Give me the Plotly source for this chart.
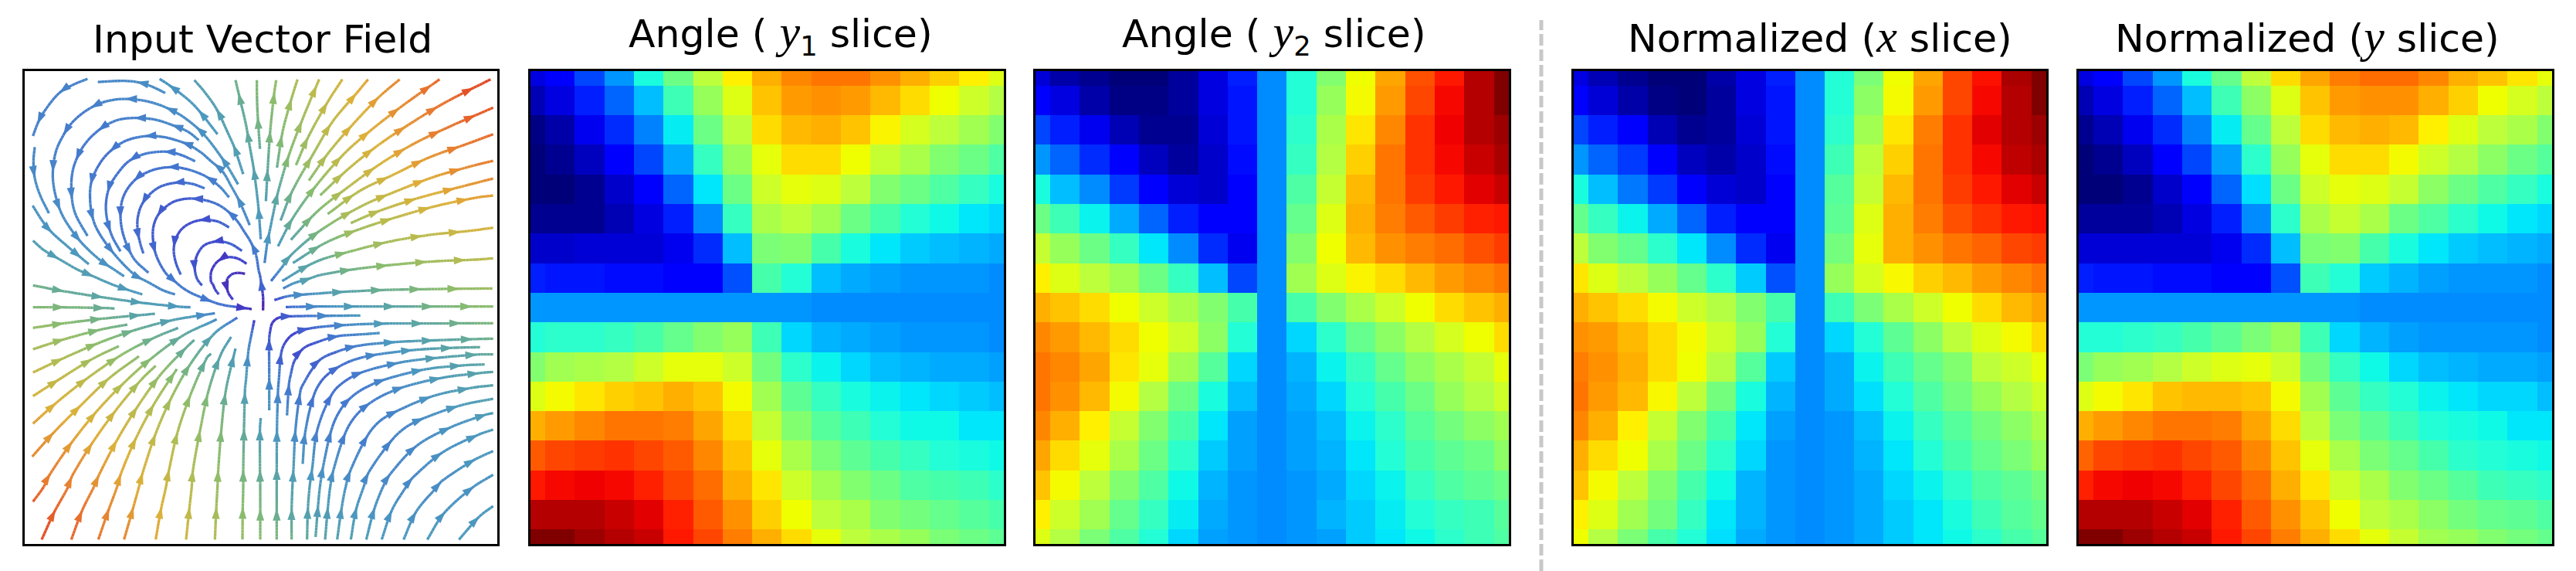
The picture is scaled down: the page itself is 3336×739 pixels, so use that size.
import math
import plotly.graph_objects as go

W, H = 3336, 739
MATH = '<span style="font-family:\'Liberation Serif\';font-style:italic;font-size:60px">%s</span>'
TITLES = [
    "Input Vector Field",
    "Angle ( " + MATH % "y" + "<sub>1</sub> slice)",
    "Angle ( " + MATH % "y" + "<sub>2</sub> slice)",
    "Normalized (" + MATH % "x" + " slice)",
    "Normalized (" + MATH % "y" + " slice)",
]
TITLE_CENTER = [340, 1011, 1650, 2357, 2988]
PANEL_X = [(31.5, 644), (687, 1300), (1341, 1954), (2038, 2650), (2692, 3305)]
PANEL_Y = (91.7, 704)

ANGLE_Y1 = [
    [9,11,17,25,37,47,56,66,72,76,78,78,75,72,69,66,60],
    [5,9,14,20,29,41,52,60,70,74,75,74,71,68,62,58,55],
    [1,4,10,15,23,34,47,56,68,71,72,70,65,59,56,53,50],
    [0,2,6,11,17,27,40,52,61,68,68,62,57,54,50,47,43],
    [0,0,2,7,11,20,33,47,58,61,60,56,50,47,43,40,37],
    [2,2,2,5,9,14,24,40,54,56,53,47,42,38,36,33,31],
    [7,7,8,8,8,10,15,29,49,50,42,37,33,30,29,28,27],
    [14,13,13,12,12,11,11,18,42,38,29,27,26,25,25,25,24],
    [25,25,25,25,25,25,25,25,25,25,24,24,24,24,24,24,24],
    [38,39,39,40,42,46,50,52,41,31,28,27,26,25,25,25,24],
    [50,53,54,55,58,61,61,58,48,39,35,31,29,28,27,27,26],
    [60,63,67,69,70,72,70,63,53,45,40,37,35,33,31,30,29],
    [72,74,76,78,78,77,73,68,57,50,44,41,38,36,36,33,33],
    [81,83,84,85,83,81,76,70,61,54,49,45,42,40,38,37,36],
    [88,90,91,90,87,83,79,72,67,58,53,50,47,43,42,41,39],
    [96,96,96,94,92,87,81,75,69,62,56,54,50,48,46,44,42],
    [100,100,98,96,94,88,83,77,72,68,61,56,54,52,49,47,45],
]
ANGLE_Y2 = [
    [8,4,2,0,0,3,9,14,24,38,50,62,73,82,88,96,100],
    [11,9,4,1,1,3,9,13,24,38,52,63,74,83,90,96,100],
    [17,14,10,5,2,2,8,13,24,39,54,67,76,85,91,96,98],
    [25,20,15,11,6,3,7,12,24,40,55,69,78,85,90,94,97],
    [37,29,24,16,11,8,7,11,24,43,57,71,78,84,88,92,94],
    [47,41,35,27,20,14,11,11,24,46,60,72,77,81,84,87,88],
    [57,52,47,40,33,24,15,10,24,50,62,71,75,77,79,82,84],
    [66,60,56,53,47,40,29,17,24,53,60,65,68,71,74,76,78],
    [72,70,68,62,58,54,50,42,24,42,50,54,58,62,68,70,72],
    [76,74,71,68,62,58,51,38,24,31,39,46,51,55,59,62,68],
    [78,76,73,67,61,53,44,31,24,28,35,40,46,51,54,57,61],
    [78,75,71,63,55,47,37,29,24,27,31,38,42,47,52,55,58],
    [76,72,66,57,50,42,33,26,24,26,29,35,39,44,48,51,53],
    [73,68,61,54,47,39,30,26,24,26,28,33,38,42,45,47,51],
    [70,63,56,50,43,36,28,25,24,25,27,31,35,40,43,45,47],
    [66,58,53,46,40,34,27,25,24,25,28,30,34,38,40,41,44],
    [60,55,49,43,38,31,26,25,24,25,26,30,33,36,39,41,43],
]
NORM_X = [
    [9,5,2,0,0,4,9,14,24,38,49,62,73,83,89,97,100],
    [11,8,4,1,0,3,9,13,24,38,51,63,74,83,90,96,100],
    [17,14,11,5,2,3,8,13,24,39,53,67,77,85,92,96,98],
    [25,20,16,11,6,4,7,12,24,41,56,69,78,85,90,95,97],
    [37,29,22,16,11,8,7,11,24,44,57,71,78,84,88,92,94],
    [46,40,35,27,20,14,11,11,24,45,60,72,77,82,85,88,89],
    [56,50,46,39,33,24,15,10,24,48,61,72,75,78,80,83,84],
    [67,60,56,52,46,39,30,18,24,52,59,64,69,71,74,76,78],
    [72,70,68,63,58,55,50,42,24,41,49,54,58,62,68,71,73],
    [75,74,71,68,63,58,52,38,24,31,38,45,51,56,60,63,68],
    [77,75,72,68,62,55,44,30,24,27,35,41,46,50,56,58,61],
    [78,74,71,64,56,48,37,28,24,27,32,38,43,48,52,55,58],
    [76,72,66,57,50,42,33,26,24,25,29,35,40,44,48,51,54],
    [72,68,62,54,47,39,31,25,24,25,28,33,38,42,46,49,52],
    [70,63,56,50,42,36,28,25,24,25,27,31,35,39,43,45,48],
    [66,60,53,48,40,33,28,25,24,25,27,30,33,37,41,44,46],
    [62,55,49,42,38,32,27,25,24,25,27,30,33,36,39,42,44],
]
NORM_Y = [
    [9,11,17,25,37,46,56,68,73,77,79,79,76,72,70,67,61],
    [5,9,14,20,29,41,51,60,70,74,75,75,72,69,62,59,56],
    [2,5,10,15,23,34,46,56,68,71,72,71,66,60,56,54,50],
    [0,2,6,11,17,26,39,52,61,68,68,63,58,55,51,47,44],
    [0,0,2,7,11,20,32,47,58,61,60,57,51,47,43,40,37],
    [3,3,3,5,9,14,24,39,54,57,54,47,43,39,36,33,31],
    [8,8,8,8,8,10,15,29,49,50,42,37,33,30,29,28,27],
    [14,13,13,12,12,11,11,18,41,38,30,28,26,25,25,25,24],
    [25,25,25,25,25,25,25,25,25,25,24,24,24,24,24,24,24],
    [38,38,39,40,42,45,49,52,41,31,28,26,25,25,25,25,24],
    [49,52,53,55,58,60,61,58,48,40,36,31,29,28,27,27,26],
    [60,63,67,70,71,71,70,63,53,45,40,38,35,33,31,31,29],
    [72,74,76,78,78,77,73,68,56,49,45,41,38,37,36,33,33],
    [80,83,84,85,83,81,76,70,61,54,49,46,42,39,38,37,36],
    [87,90,91,90,87,83,79,72,67,58,54,50,47,44,41,40,39],
    [96,96,96,94,92,87,81,75,70,62,56,54,51,48,46,45,43],
    [100,100,98,96,94,88,83,77,72,68,61,57,53,52,50,48,46],
]
ZERO_LEVEL = 24

JET_STOPS = [
    (0,(0,0,120)),(5,(0,0,180)),(9,(0,0,225)),(11,(0,0,255)),(14,(0,30,255)),(17,(0,70,255)),
    (20,(0,100,255)),(24,(0,140,255)),(26.5,(0,165,255)),(29,(0,190,255)),(31,(0,215,255)),
    (33,(0,230,250)),(36,(15,250,230)),(38.5,(40,255,210)),(42,(70,255,170)),(46,(100,255,140)),
    (50,(130,255,110)),(53,(160,255,80)),(56,(190,255,60)),(60,(220,255,20)),(62,(240,255,0)),
    (66,(255,240,0)),(68,(255,220,0)),(70,(255,195,0)),(72,(255,175,0)),(74.5,(255,150,0)),
    (77,(255,125,0)),(80,(255,100,0)),(83,(255,70,0)),(86,(255,40,0)),(88.5,(255,20,0)),
    (91,(240,0,0)),(94,(200,0,0)),(97,(170,0,0)),(100,(128,0,0)),
]
SPEED_STOPS = [
    (0.00,(90,24,154)),(0.13,(64,64,204)),(0.25,(68,120,208)),(0.38,(76,152,192)),(0.50,(95,168,160)),
    (0.63,(136,188,112)),(0.75,(184,188,80)),(0.87,(223,176,56)),(1.00,(232,122,48)),(1.12,(226,60,34)),
]

# Streamlines, in flow order. Points are in thirds of a pixel; a name switches the tile they are read from.
TILES = {"nw":(0,0),"ne":(918,0),"sw":(0,822),"se":(918,822),"bl":(0,1644),"br":(918,1644)}
STREAMLINES = [
    ["nw",(862,817),(832,813),(808,820),(793,835),"sw",(790,35),(797,70),(815,95)],
    ["nw",(868,778),(835,758),(800,752),(765,762),(745,780),(730,810),(730,850),"sw",(737,35),(745,55),(760,75)],
    ["nw",(850,728),(815,705),(780,693),(745,692),(705,705),(680,735),(667,775),(668,810),(677,840),"sw",(695,40)],
    ["nw",(800,637),(760,615),(720,608),(680,610),(640,625),(610,650),(590,690),(585,730),(595,780),(612,820)],
    ["se",(14,137),(14,85),(8,40),(2,0),"nw",(915,805),(905,745),(885,695),(860,655),(830,610),(790,570),(750,545),(700,530),(640,525),(590,535),(550,560),(520,595),(505,640),(505,690),(515,740),(535,785),(560,822),"sw",(590,25),(620,50),(650,68),(700,90),(760,112),(800,120),(888,132)],
    ["nw",(705,485),(665,470),(625,463),(580,465),(530,480),(490,510),(460,550),(445,600),(445,650),(455,700),(467,738)],
    ["nw",(800,520),(765,480),(720,445),(680,425),(625,408),(570,403),(510,412),(450,440),(410,480),(385,530),(378,590),(385,650),(405,710),(435,765),(487,813)],
    ["nw",(668,380),(620,358),(575,345),(530,343),(470,352),(410,380),(365,430),(335,480),(322,540),(325,600),(345,670),(378,730)],
    ["nw",(880,628),(860,580),(835,525),(810,480),(775,420),(730,380),(690,345),(640,315),(600,300),(540,285),(470,283),(400,300),(345,335),(300,385),(265,460),(260,530),(270,600),(290,650),(330,710),(380,770),(435,822),"sw",(490,30),(545,60),(590,75)],
    ["nw",(682,298),(640,265),(575,238),(510,218),(430,212),(360,222),(290,262),(235,320),(200,390),(188,450),(190,530),(205,590),(250,670)],
    ["nw",(835,470),(800,410),(760,350),(710,285),(670,245),(610,200),(540,165),(470,145),(395,138),(320,148),(250,180),(190,230),(150,290),(125,350),(115,435),(125,510),(150,585),(190,650),(235,705),(300,765),(360,805),(392,827)],
    ["nw",(755,275),(680,180),(640,140),(575,90),(530,60)],
    ["nw",(855,430),(820,325),(800,280),(750,175),(700,105),(665,65)],
    ["nw",(552,115),(500,90),(440,72),(380,68),(290,72)],
    ["nw",(250,60),(190,85),(140,115),(90,175),(60,225),(38,282)],
    ["nw",(45,325),(40,380),(45,445),(65,510),(100,582)],
    ["nw",(37,552),(70,605),(105,650),(160,700),(255,780)],
    ["nw",(38,688),(80,725),(140,760),(210,800),(275,828),"sw",(350,38),(415,60),(463,75)],
    ["nw",(920,332),(915,260),(910,180),(908,110),(908,65)],
    ["nw",(923,683),(915,570),(905,480),(895,405),(880,320),(865,235),(845,150),(825,65)],
    ["sw",(38,40),(160,63),(300,85),(465,108),(610,123),(650,125)],
    ["sw",(38,125),(150,125),(320,128),(355,130)],
    ["sw",(38,205),(160,187),(320,168),(460,155),(512,150)],
    ["sw",(38,288),(150,252),(300,212),(405,192)],
    ["sw",(38,378),(145,328),(290,265),(430,215),(580,175),(745,148)],
    ["sw",(38,470),(140,405),(270,325),(372,276)],
    ["sw",(38,577),(130,495),(250,400),(390,305),(510,243),(602,205)],
    ["sw",(35,705),(120,610),(225,505),(335,400),(450,315)],
    ["bl",(38,58),(80,0),"sw",(100,780),(185,655),(285,530),(390,420),(500,322),(625,232),(735,180),(752,172)],
    ["bl",(72,205),(120,100),(175,0),"sw",(190,780),(270,650),(360,525),(460,405),(515,352)],
    ["bl",(187,205),(230,90),(275,0),"sw",(295,775),(365,640),(445,510),(535,385),(635,280),(665,252)],
    ["bl",(292,205),(330,95),(365,0),"sw",(380,770),(440,630),(515,490),(597,365)],
    ["bl",(392,205),(425,90),(450,0),"sw",(465,765),(515,615),(575,478),(650,345),(745,225),(832,165)],
    ["bl",(515,205),(535,90),(555,0),"sw",(565,765),(600,610),(650,465),(715,318),(730,305)],
    ["bl",(633,205),(645,90),(655,0),"sw",(660,755),(688,600),(720,450),(768,308),(808,240)],
    ["bl",(745,205),(750,90),(755,0),"sw",(758,755),(770,600),(788,445),(825,285)],
    ["bl",(852,205),(853,90),(855,0),"sw",(855,755),(858,595),(862,440),(865,415),(875,295),(885,240),(898,175)],
    ["br",(3,205),(3,0),"se",(2,755),(2,595),(5,555)],
    ["ne",(25,535),(32,410),(42,260),(58,110),(65,65)],
    ["ne",(68,405),(90,265),(125,135),(148,62)],
    ["ne",(20,775),(30,700),(42,640),(50,600),(72,500),(115,355),(170,210),(232,62)],
    ["ne",(142,395),(190,285),(265,150),(322,62)],
    ["ne",(82,610),(128,495),(210,350),(285,225),(378,115),(422,62)],
    ["ne",(192,455),(270,345),(360,240),(465,130),(545,62)],
    ["ne",(72,710),(130,600),(220,475),(330,350),(430,262),(555,165),(700,62)],
    ["ne",(236,512),(345,410),(465,315),(600,225),(725,150),(898,62)],
    ["ne",(122,685),(225,575),(345,480),(470,390),(600,312),(740,245),(908,172)],
    ["ne",(265,585),(390,495),(525,430),(660,365),(800,315),(908,275)],
    ["ne",(45,845),(85,795),(125,742),(235,650),(395,555),(535,495),(680,440),(820,400),(908,378)],
    ["ne",(355,620),(460,575),(610,525),(760,485),(908,447)],
    ["ne",(130,775),(260,695),(400,640),(540,595),(690,553),(850,520),(908,513)],
    ["ne",(88,845),(220,770),(365,727),(515,690),(670,665),(820,650),(908,638)],
    ["se",(92,52),(130,33),(190,15),"ne",(235,822),(385,797),(540,780),(690,768),(840,762),(908,757)],
    ["se",(58,97),(110,82),(180,75),(330,65),(480,58),(630,55),(790,53),(905,52)],
    ["se",(102,124),(240,122),(375,122),(530,122),(690,122),(840,122),(908,122)],
    ["se",(38,525),(38,385),(38,245),(42,215),(50,185),(75,165),(130,160),(285,158),(392,157)],
    ["br",(67,205),(67,60),(67,0),"se",(68,600),(72,450),(75,410),(85,300),(100,262),(130,230),(195,207),(350,193),(505,188),(650,188),(810,187),(908,187)],
    ["se",(107,545),(115,420),(122,385),(135,335),(170,285),(220,262),(300,238),(400,230),(467,225)],
    ["br",(125,205),(125,95),(128,0),"se",(132,755),(140,600),(160,445),(172,420),(205,365),(240,325),(300,298),(380,275),(530,260),(690,253),(855,248),(908,247)],
    ["se",(168,733),(178,610),(212,465),(250,400),(315,352),(380,325),(460,308),(610,290),(765,282),(857,280)],
    ["br",(185,205),(188,90),(195,0),"se",(205,750),(225,600),(283,460),(335,410),(405,375),(555,338),(705,320),(860,308),(908,308)],
    ["br",(218,195),(228,70),(235,0),"se",(248,740),(283,590),(320,515),(368,465),(430,428),(505,400),(650,365),(800,350),(875,347)],
    ["br",(255,205),(265,90),(275,0),"se",(288,755),(335,610),(375,545),(432,495),(495,460),(575,430),(720,397),(880,378),(908,376)],
    ["br",(302,205),(318,90),(335,0),"se",(355,755),(422,620),(470,565),(540,525),(680,468),(830,437),(908,428)],
    ["br",(355,205),(375,90),(405,0),"se",(425,765),(515,640),(570,590),(640,555),(785,505),(908,480)],
    ["br",(415,205),(445,90),(480,0),"se",(510,770),(612,662),(745,590),(885,540),(908,536)],
    ["br",(475,205),(515,90),(570,0),"se",(597,785),(712,688),(850,620),(908,600)],
    ["br",(560,205),(610,95),(690,0),"se",(708,800),(830,720),(908,683)],
    ["br",(652,205),(715,105),(825,5),"se",(908,775)],
    ["br",(775,205),(855,115),(908,75)],
]
FIELD_X = (4.5, 1842)
FIELD_Y = (29, 1866)
ARROW_FIRST, ARROW_EVERY = 120, 150


def resolve(line):
    pts, off = [], (0, 0)
    for item in line:
        if isinstance(item, str):
            off = TILES[item]
        else:
            pts.append((item[0] + off[0], item[1] + off[1]))
    return pts


def smooth(pts, step=12):
    n = len(pts)
    d = [math.dist(pts[i], pts[i + 1]) for i in range(n - 1)]
    tang = []
    for i in range(n):
        a, b = pts[max(i - 1, 0)], pts[min(i + 1, n - 1)]
        s = d[max(i - 1, 0)] + (d[i] if 0 < i < n - 1 else 0)
        tang.append(((b[0] - a[0]) / s, (b[1] - a[1]) / s))
    out = [pts[0]]
    for i in range(n - 1):
        k = max(1, int(d[i] / step))
        for j in range(1, k + 1):
            t = j / k
            h00, h10 = 2*t**3 - 3*t**2 + 1, t**3 - 2*t**2 + t
            h01, h11 = -2*t**3 + 3*t**2, t**3 - t**2
            out.append(tuple(h00*pts[i][c] + h10*d[i]*tang[i][c] + h01*pts[i+1][c] + h11*d[i]*tang[i+1][c] for c in (0, 1)))
    return out


def bilinear(m, x, y):
    c = min(max((x - FIELD_X[0]) / (FIELD_X[1] - FIELD_X[0]) * 16, 0), 15.999)
    r = min(max((y - FIELD_Y[0]) / (FIELD_Y[1] - FIELD_Y[0]) * 16, 0), 15.999)
    i, j = int(r), int(c)
    fr, fc = r - i, c - j
    return ((1-fr)*((1-fc)*m[i][j] + fc*m[i][j+1]) + fr*((1-fc)*m[i+1][j] + fc*m[i+1][j+1]))


def speed(x, y):
    u = (bilinear(NORM_X, x, y) - ZERO_LEVEL) / (100 - ZERO_LEVEL)
    v = (bilinear(NORM_Y, x, y) - ZERO_LEVEL) / (100 - ZERO_LEVEL)
    return math.hypot(u, v)


def ramp(s):
    stops = SPEED_STOPS
    s = min(max(s, stops[0][0]), stops[-1][0])
    for (a, ca), (b, cb) in zip(stops, stops[1:]):
        if s <= b:
            t = (s - a) / (b - a)
            return "rgb(%d,%d,%d)" % tuple(ca[k] + t*(cb[k] - ca[k]) for k in range(3))
    return "rgb(%d,%d,%d)" % stops[-1][1]


BINS = 45
bin_x = [[] for _ in range(BINS)]
bin_y = [[] for _ in range(BINS)]
ax, ay, aang, acol = [], [], [], []
for line in STREAMLINES:
    dense = smooth(resolve(line))
    run = 0.0
    next_arrow = ARROW_FIRST
    total = sum(math.dist(dense[i], dense[i+1]) for i in range(len(dense)-1))
    for p, q in zip(dense, dense[1:]):
        seg = math.dist(p, q)
        mx, my = (p[0]+q[0])/2, (p[1]+q[1])/2
        s = speed(mx, my)
        b = min(int(s / 1.12 * BINS), BINS - 1)
        bin_x[b] += [p[0], q[0], None]
        bin_y[b] += [p[1], q[1], None]
        run += seg
        if run >= next_arrow and run < total - 12:
            ax.append(q[0]); ay.append(q[1])
            aang.append(math.degrees(math.atan2(q[0]-p[0], -(q[1]-p[1]))))
            acol.append(ramp(s))
            next_arrow += ARROW_EVERY

fig = go.Figure()
for b in range(BINS):
    if bin_x[b]:
        fig.add_trace(go.Scatter(x=bin_x[b], y=bin_y[b], mode="lines", hoverinfo="skip", showlegend=False,
                                 line=dict(color=ramp((b + 0.5) / BINS * 1.12), width=3.3), xaxis="x", yaxis="y"))
fig.add_trace(go.Scatter(x=ax, y=ay, mode="markers", hoverinfo="skip", showlegend=False, xaxis="x", yaxis="y",
                         marker=dict(symbol="arrow", size=16.5, angle=aang, color=acol, line=dict(width=0))))

jet = [[v / 100, "rgb(%d,%d,%d)" % c] for v, c in JET_STOPS]
CELLS = list(range(17))
for k, m in enumerate([ANGLE_Y1, ANGLE_Y2, NORM_X, NORM_Y], start=2):
    fig.add_trace(go.Heatmap(z=m, x=CELLS, y=CELLS, zmin=0, zmax=100, colorscale=jet, showscale=False,
                             hoverinfo="skip", xaxis=f"x{k}", yaxis=f"y{k}"))

layout = dict(width=W, height=H, margin=dict(l=0, r=0, t=0, b=0), paper_bgcolor="white", plot_bgcolor="white",
              font=dict(family="DejaVu Sans", color="black", size=50), showlegend=False)
for k, (x0, x1) in enumerate(PANEL_X, start=1):
    sx = "" if k == 1 else str(k)
    common = dict(showgrid=False, zeroline=False, showticklabels=False, ticks="", showline=True, mirror=True,
                  linecolor="black", linewidth=2.8)
    xr = FIELD_X if k == 1 else (0, 16)
    yr = FIELD_Y[::-1] if k == 1 else (16, 0)
    layout["xaxis" + sx] = dict(domain=[x0 / W, x1 / W], range=list(xr), anchor="y" + sx, **common)
    layout["yaxis" + sx] = dict(domain=[1 - PANEL_Y[1] / H, 1 - PANEL_Y[0] / H], range=list(yr), anchor="x" + sx, **common)
layout["annotations"] = [
    dict(text=t, x=c / W, y=1 - 82 / H, xref="paper", yref="paper", xanchor="center", yanchor="bottom",
         showarrow=False, font=dict(family="DejaVu Sans", size=50.5, color="black"))
    for t, c in zip(TITLES, TITLE_CENTER)
]
layout["shapes"] = [dict(type="line", xref="paper", yref="paper", x0=1996 / W, x1=1996 / W, y0=0, y1=1 - 26 / H,
                         line=dict(color="#c8c8c8", width=5, dash="15px,5px"))]
fig.update_layout(**layout)
fig.write_html("out.html", config={"displayModeBar": False},
               post_script="document.body.style.margin='0';document.documentElement.style.overflow='hidden';")
